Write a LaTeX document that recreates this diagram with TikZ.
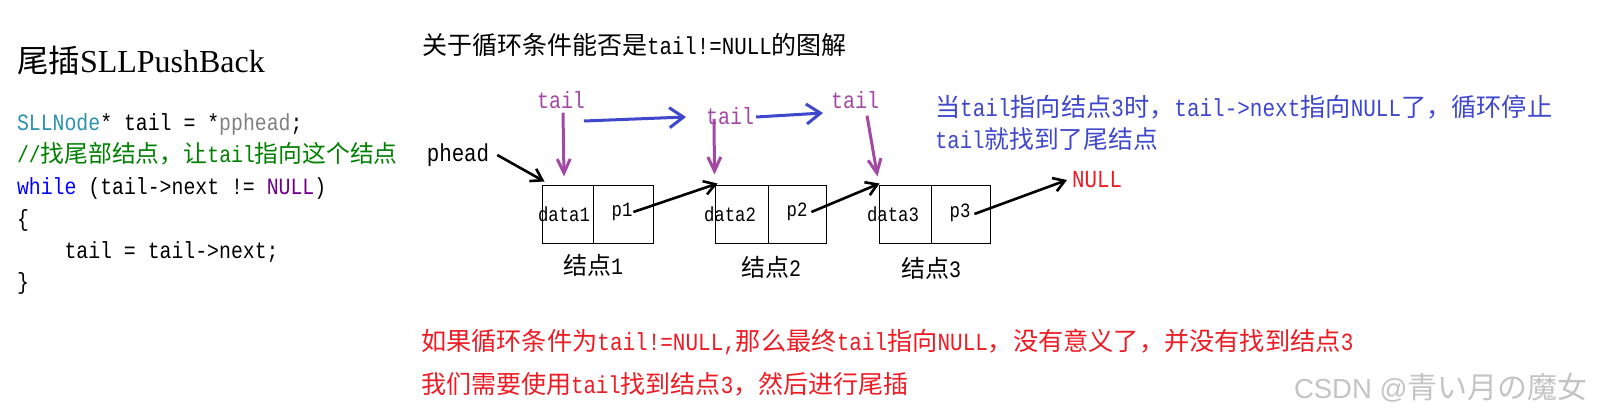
\documentclass[tikz,border=0pt]{standalone}
\usepackage{fontspec}
\usetikzlibrary{arrows.meta}
\newfontfamily\cjk{Noto Sans CJK SC}
\newfontfamily\mono[FakeStretch=0.85]{Liberation Mono}
\newfontfamily\serifl{Liberation Serif}
\newfontfamily\wmfont{Liberation Sans}
\def\zhsz{24}\def\ensz{20}
\newcommand\setem[1]{\def\zhsz{#1}\edef\ensz{\fpeval{round(#1*0.98,2)}}}
\newcommand\zh[1]{{\cjk\fontsize{\zhsz}{\zhsz}\selectfont #1}}
\newcommand\en[1]{{\mono\fontsize{\ensz}{\ensz}\selectfont #1}}
\definecolor{tpurple}{HTML}{A349A4}
\definecolor{tblue}{HTML}{3F48CC}
\definecolor{tred}{HTML}{ED1C24}
\definecolor{cteal}{HTML}{2B91AF}
\definecolor{cgray}{HTML}{808080}
\definecolor{cgreen}{HTML}{008000}
\definecolor{cblue}{HTML}{0000FF}
\definecolor{cpurple}{HTML}{6F008A}
\definecolor{wmgray}{HTML}{C4C4C4}
\tikzset{
  txt/.style={inner sep=0pt, outer sep=0pt, anchor=base west},
  lbl/.style={inner sep=0pt, outer sep=0pt, anchor=center},
  cell/.style={draw=black, line width=1pt, inner sep=0pt, minimum height=58pt},
  parr/.style={draw=tpurple, line width=3pt, -{Straight Barb[length=14pt,width=13pt]}},
  barr/.style={draw=tblue, line width=3pt, -{Straight Barb[length=14pt,width=20pt]}},
  karr/.style={draw=black, line width=2.6pt, -{Straight Barb[length=11pt,width=14pt]}},
}
\begin{document}
\begin{tikzpicture}[x=1pt,y=-1pt]
\useasboundingbox (0,0) rectangle (1608,420);
\fill[white] (0,0) rectangle (1608,420);

% ---- left: title and code ----
\node[txt] (title) at (17,72) {\setem{31.5}\zh{尾插}{\serifl\fontsize{32}{32}\selectfont SLLPushBack}};
\node[txt] (c1) at (17,130) {\setem{23.8}\en{\textcolor{cteal}{SLLNode}* tail = *\textcolor{cgray}{pphead};}};
\node[txt] (c2) at (17,162) {\setem{23.8}\color{cgreen}\en{//}\zh{找尾部结点，让}\en{tail}\zh{指向这个结点}};
\node[txt] (c3) at (17,194) {\setem{23.8}\en{\textcolor{cblue}{while} (tail->next != \textcolor{cpurple}{NULL})}};
\node[txt] (c4) at (17,226) {\setem{23.8}\en{\{}};
\node[txt] (c5) at (64.5,258) {\setem{23.8}\en{tail = tail->next;}};
\node[txt] (c6) at (17,289) {\setem{23.8}\en{\}}};

% ---- diagram title ----
\node[txt] (dtitle) at (422,55) {\setem{25}\zh{关于循环条件能否是}\en{tail!=NULL}\zh{的图解}};

% ---- cells ----
\node[cell, minimum width=51pt] (d1) at (567.5,214) {};
\node[cell, minimum width=60pt] (q1) at (623,214) {};
\node[cell, minimum width=53pt] (d2) at (741.5,214) {};
\node[cell, minimum width=58pt] (q2) at (797,214) {};
\node[cell, minimum width=52pt] (d3) at (905,214) {};
\node[cell, minimum width=59pt] (q3) at (960.5,214) {};

\node[lbl] (dl1) at (564,214) {\setem{20.8}\en{data1}};
\node[lbl] (dl2) at (730,214) {\setem{20.8}\en{data2}};
\node[lbl] (dl3) at (893,214) {\setem{20.8}\en{data3}};
\node[lbl] (pl1) at (622,212) {\setem{20.8}\en{p1}};
\node[lbl] (pl2) at (797,212) {\setem{20.8}\en{p2}};
\node[lbl] (pl3) at (960,213) {\setem{20.8}\en{p3}};

\node[lbl] (n1) at (593,265) {\setem{24}\zh{结点}\en{1}};
\node[lbl] (n2) at (771,267) {\setem{24}\zh{结点}\en{2}};
\node[lbl] (n3) at (931,268) {\setem{24}\zh{结点}\en{3}};

\node[lbl] (phead) at (458,155) {\setem{25}\en{phead}};
\node[lbl, text=tred] (nul) at (1097,180) {\setem{25}\en{NULL}};

\node[lbl, text=tpurple] (t1) at (561,100) {\setem{24}\en{tail}};
\node[lbl, text=tpurple] (t2) at (730,116) {\setem{24}\en{tail}};
\node[lbl, text=tpurple] (t3) at (855,100) {\setem{24}\en{tail}};

% ---- connectors ----
\draw[karr] ([xshift=8pt]phead.east) -- ([xshift=3pt,yshift=3pt]d1.north west);
\draw[karr] ([xshift=1pt]pl1.east) -- ([xshift=3pt,yshift=1pt]d2.north west);
\draw[karr] ([xshift=4pt]pl2.east) -- ([xshift=1pt,yshift=1pt]d3.north west);
\draw[karr] ([xshift=4pt,yshift=-1pt]pl3.east) -- ([xshift=-5pt]nul.west);

\draw[parr] ([xshift=2pt,yshift=-4pt]t1.south) -- ([xshift=-3.5pt,yshift=8pt]d1.north);
\draw[parr] ([xshift=-16pt,yshift=-3pt]t2.center) -- ([yshift=10pt]d2.north west);
\draw[parr] ([xshift=12pt,yshift=-7pt]t3.south) -- ([xshift=-1pt,yshift=8pt]d3.north west);

\draw[barr] ([xshift=-1pt,yshift=-21pt]t1.east) -- ([xshift=-20pt,yshift=-1pt]t2.west);
\draw[barr] ([xshift=2pt,yshift=-1pt]t2.east) -- ([xshift=-8pt,yshift=-13pt]t3.west);

% ---- blue note ----
\node[txt, text=tblue] (b1) at (935,116) {\setem{25.2}\zh{当}\en{tail}\zh{指向结点}\en{3}\zh{时，}\en{tail->next}\zh{指向}\en{NULL}\zh{了，循环停止}};
\node[txt, text=tblue] (b2) at (935,148) {\setem{24.8}\en{tail}\zh{就找到了尾结点}};

% ---- red note ----
\node[txt, text=tred] (r1) at (421,350) {\setem{25.2}\zh{如果循环条件为}\en{tail!=NULL,}\zh{那么最终}\en{tail}\zh{指向}\en{NULL}\zh{，没有意义了，并没有找到结点}\en{3}};
\node[txt, text=tred] (r2) at (421,393) {\setem{25}\zh{我们需要使用}\en{tail}\zh{找到结点}\en{3}\zh{，然后进行尾插}};

% ---- watermark ----
\node[txt, text=wmgray] (wm) at (1294,398) {{\wmfont\fontsize{27.5}{27.5}\selectfont CSDN @}{\cjk\fontsize{30}{30}\selectfont 青い月の魔女}};
\end{tikzpicture}
\end{document}
